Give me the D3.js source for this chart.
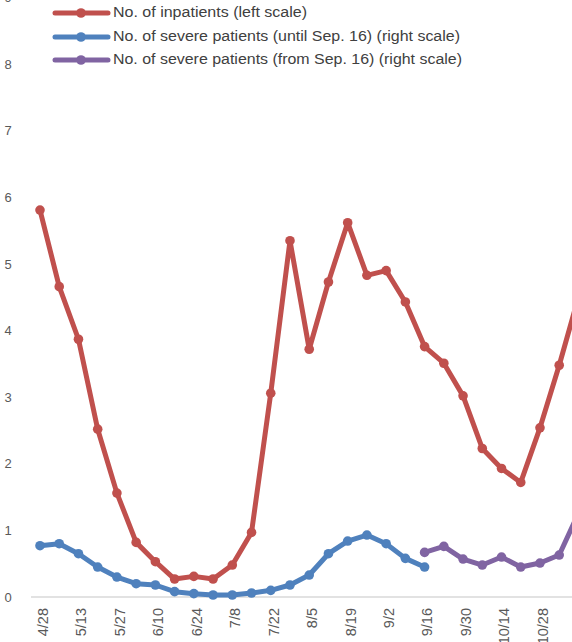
<!DOCTYPE html>
<html><head><meta charset="utf-8">
<script src="https://cdn.jsdelivr.net/npm/d3@7"></script>
<style>
body{margin:0;background:#fff;}
svg{display:block;}
text{font-family:"Liberation Sans",Arial,sans-serif;}
</style></head>
<body>
<svg id="chart" width="572" height="642"></svg>
<script>
const categories = ["4/28","5/6","5/13","5/20","5/27","6/3","6/10","6/17","6/24","7/1","7/8","7/15","7/22","7/29","8/5","8/12","8/19","8/26","9/2","9/9","9/16","9/23","9/30","10/7","10/14","10/21","10/28","11/4","11/11"];
const tickLabels = ["4/28","5/13","5/27","6/10","6/24","7/8","7/22","8/5","8/19","9/2","9/16","9/30","10/14","10/28"];
const inpatients = [5.81,4.66,3.87,2.52,1.56,0.82,0.53,0.27,0.31,0.27,0.48,0.97,3.06,5.35,3.72,4.73,5.62,4.83,4.90,4.43,3.76,3.51,3.02,2.23,1.93,1.72,2.54,3.48,4.5];
const severeUntil = [7.7,8.0,6.5,4.5,3.0,2.0,1.8,0.8,0.5,0.3,0.3,0.6,1.0,1.8,3.3,6.5,8.4,9.3,8.0,5.8,4.5];
const severeFrom = [null,null,null,null,null,null,null,null,null,null,null,null,null,null,null,null,null,null,null,null,6.7,7.6,5.7,4.8,6.0,4.5,5.1,6.3,12.6];
const leftTicks = [0,1,2,3,4,5,6,7,8,9];
const seriesNames = ["No. of inpatients (left scale)","No. of severe patients (until Sep. 16) (right scale)","No. of severe patients (from Sep. 16) (right scale)"];
const colors = ["#C0504D","#4F81BD","#8064A2"];

const svg = d3.select("#chart");
const x = d3.scalePoint().domain(categories).range([40, 40 + 19.23*(categories.length-1)]);
const yL = d3.scaleLinear().domain([0,9]).range([597, 597-9*66.6]);
const yR = d3.scaleLinear().domain([0,90]).range([597, 597-9*66.6]);

// baseline
svg.append("line").attr("x1",31).attr("x2",600).attr("y1",yL(0)).attr("y2",yL(0))
  .attr("stroke","#d9d9d9").attr("stroke-width",1.5);

// left axis labels
const yAxis = d3.axisLeft(yL).tickValues(leftTicks).tickSize(0).tickPadding(0);
const gy = svg.append("g").attr("transform","translate(12,0)").call(yAxis);
gy.select(".domain").remove();
gy.selectAll("text").attr("fill","#595959").style("font-size","13px").attr("text-anchor","middle").attr("x",-4);

// x axis labels
const xAxis = d3.axisBottom(x).tickValues(tickLabels).tickSize(0).tickPadding(0);
const gx = svg.append("g").attr("transform","translate(0,608)").call(xAxis);
gx.select(".domain").remove();
gx.selectAll("text").attr("fill","#595959").style("font-size","14.5px")
  .attr("text-anchor","end").attr("dy",null).attr("y",0)
  .attr("transform","translate(3.5,0) rotate(-90)").attr("dominant-baseline","middle");

function drawSeries(vals, scale, color){
  const data = categories.map((c,i)=>({c, v: vals[i]})).filter(d=>d.v!=null && d.v!==undefined);
  const line = d3.line().x(d=>x(d.c)).y(d=>scale(d.v));
  svg.append("path").datum(data).attr("d",line).attr("fill","none")
    .attr("stroke",color).attr("stroke-width",5).attr("stroke-linejoin","round").attr("stroke-linecap","round");
  svg.append("g").selectAll("circle").data(data).join("circle")
    .attr("cx",d=>x(d.c)).attr("cy",d=>scale(d.v)).attr("r",4.8).attr("fill",color);
}
drawSeries(inpatients, yL, colors[0]);
drawSeries(severeUntil, yR, colors[1]);
drawSeries(severeFrom, yR, colors[2]);

// legend
const legendY = [13,37,60];
const legendEnd = [307,460,462];
seriesNames.forEach((n,i)=>{
  const g = svg.append("g");
  g.append("line").attr("x1",55).attr("x2",108).attr("y1",legendY[i]).attr("y2",legendY[i])
    .attr("stroke",colors[i]).attr("stroke-width",5).attr("stroke-linecap","round");
  g.append("circle").attr("cx",81).attr("cy",legendY[i]).attr("r",4.8).attr("fill",colors[i]);
  g.append("text").attr("x",113).attr("y",legendY[i]).attr("dominant-baseline","middle")
    .attr("fill","#404040").style("font-size","14px")
    .attr("textLength",legendEnd[i]-113).attr("lengthAdjust","spacingAndGlyphs").text(n);
});
</script>
</body></html>
